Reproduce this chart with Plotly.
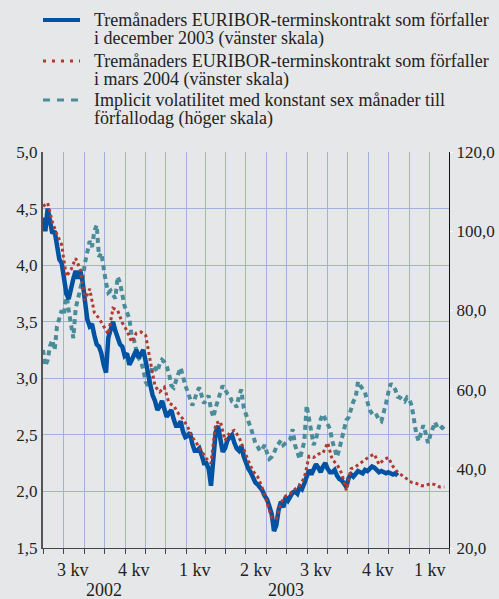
import pandas as pd
import plotly.graph_objects as go

# ---- data ----
start_date = "2002-07-01"

# Dec 2003 contract, two observations per week (left scale)
dec03 = [4.42, 4.30, 4.50, 4.40, 4.28, 4.30, 4.15, 4.05, 4.02, 3.88,
         3.75, 3.70, 3.80, 3.88, 3.95, 3.88, 3.95, 3.85, 3.68, 3.52,
         3.46, 3.48, 3.38, 3.30, 3.28, 3.22, 3.12, 3.05, 3.36, 3.42,
         3.50, 3.42, 3.37, 3.30, 3.28, 3.20, 3.22, 3.12, 3.16, 3.22,
         3.25, 3.18, 3.22, 3.25, 3.15, 3.02, 2.94, 2.85, 2.80, 2.72,
         2.75, 2.80, 2.72, 2.66, 2.69, 2.72, 2.64, 2.58, 2.58, 2.62,
         2.53, 2.48, 2.49, 2.52, 2.42, 2.36, 2.36, 2.38, 2.32, 2.25,
         2.25, 2.20, 2.05, 2.30, 2.52, 2.58, 2.43, 2.35, 2.38, 2.45,
         2.48, 2.50, 2.43, 2.38, 2.36, 2.40, 2.31, 2.25, 2.20, 2.17,
         2.12, 2.08, 2.06, 2.04, 2.01, 1.96, 1.93, 1.87, 1.80, 1.65,
         1.70, 1.84, 1.91, 1.86, 1.95, 1.92, 1.96, 1.99, 2.00, 1.98,
         2.04, 2.02, 2.07, 2.12, 2.19, 2.15, 2.19, 2.24, 2.21, 2.17,
         2.22, 2.25, 2.20, 2.17, 2.17, 2.19, 2.14, 2.11, 2.10, 2.07,
         2.04, 2.12, 2.15, 2.13, 2.16, 2.18, 2.17, 2.16, 2.19, 2.18,
         2.20, 2.22, 2.21, 2.19, 2.17, 2.18, 2.17, 2.16, 2.17, 2.16,
         2.15, 2.16, 2.14]

# Mar 2004 contract, weekly (left scale)
mar04 = [4.52, 4.55, 4.38, 4.27, 4.18, 3.90, 3.96, 4.06, 3.96, 3.69,
         3.79, 3.58, 3.53, 3.46, 3.39, 3.62, 3.60, 3.49, 3.42, 3.32,
         3.40, 3.41, 3.38, 3.15, 2.93, 2.88, 2.92, 2.78, 2.76, 2.69,
         2.64, 2.57, 2.48, 2.42, 2.35, 2.29, 2.25, 2.60, 2.62, 2.45,
         2.52, 2.54, 2.48, 2.37, 2.27, 2.18, 2.13, 2.03, 1.91, 1.77,
         1.76, 1.90, 1.96, 1.98, 2.02, 2.05, 2.12, 2.31, 2.30, 2.33,
         2.34, 2.43, 2.28, 2.24, 2.16, 2.01, 2.20, 2.22, 2.25, 2.28,
         2.31, 2.33, 2.24, 2.28, 2.30, 2.22, 2.17, 2.14, 2.11, 2.08,
         2.07, 2.05, 2.05, 2.07, 2.06, 2.04, 2.04]

# implied volatility, two observations per week (right scale)
vol = [70.0, 66.0, 67.5, 71.0, 72.5, 70.0, 76.0, 78.0, 80.0, 79.0,
       84.5, 80.0, 77.0, 73.0, 80.5, 83.0, 85.5, 88.0, 92.0, 95.0,
       97.5, 96.0, 100.0, 101.5, 93.5, 94.5, 90.5, 87.0, 84.5, 85.0,
       84.0, 83.0, 88.5, 87.0, 84.0, 81.0, 79.5, 78.0, 73.5, 72.5,
       70.0, 68.0, 67.0, 65.0, 62.0, 61.0, 63.5, 66.0, 65.5, 64.5,
       66.5, 67.5, 67.0, 66.0, 64.0, 61.0, 60.5, 62.5, 64.0, 65.5,
       63.0, 61.0, 59.5, 58.0, 56.0, 57.5, 59.5, 60.5, 58.0, 56.5,
       57.5, 58.5, 55.0, 53.0, 55.5, 57.5, 59.5, 61.0, 60.0, 59.0,
       58.5, 57.0, 56.8, 55.5, 58.5, 60.0, 55.5, 53.5, 52.0, 50.5,
       48.0, 46.5, 45.6, 44.5, 45.0, 46.0, 44.0, 42.5, 43.0, 44.0,
       45.5, 46.5, 47.2, 46.0, 46.4, 47.0, 47.5, 50.0, 46.0, 44.0,
       42.5, 44.5, 47.0, 56.0, 53.0, 49.0, 46.0, 47.5, 50.0, 52.5,
       53.8, 52.5, 51.0, 50.0, 47.0, 45.0, 43.0, 45.0, 47.5, 50.5,
       52.3, 53.0, 55.0, 57.0, 58.0, 62.0, 61.0, 60.0, 59.3, 57.0,
       54.8, 54.0, 53.2, 53.5, 52.4, 52.0, 54.0, 56.5, 59.3, 61.5,
       60.8, 60.0, 58.2, 58.0, 57.4, 57.0, 58.0, 57.5, 56.0, 52.0,
       48.8, 47.0, 49.0, 51.0, 49.0, 46.5, 48.5, 50.0, 51.8, 50.5,
       50.0, 50.5, 50.0]

quarter_labels = ["3 kv", "4 kv", "1 kv", "2 kv", "3 kv", "4 kv", "1 kv"]
quarter_pos = ["2002-08-15", "2002-11-15", "2003-02-14", "2003-05-16",
               "2003-08-15", "2003-11-15", "2004-02-01"]
year_labels = ["2002", "2003"]
year_pos = ["2002-10-01", "2003-07-01"]

legend_lines = [
    ["Tremånaders EURIBOR-terminskontrakt som förfaller", "i december 2003 (vänster skala)"],
    ["Tremånaders EURIBOR-terminskontrakt som förfaller", "i mars 2004 (vänster skala)"],
    ["Implicit volatilitet med konstant sex månader till", "förfallodag (höger skala)"],
]

d_dec = pd.date_range(start_date, periods=len(dec03), freq="84h")
d_mar = pd.date_range(start_date, periods=len(mar04), freq="7D")
d_vol = pd.date_range(start_date, periods=len(vol), freq="84h")

BG = "#E6E7E9"
GRID = "#A4B0DC"
FONT = "Liberation Serif"
BLUE = "#0052A2"
RED = "#B03A2E"
TEAL = "#4A8C9A"

# plot-area geometry in pixels (for placing the hand-made legend)
L, R, T, B = 43, 50, 152, 51
W, H = 499, 599
PW, PH = W - L - R, H - T - B


def px_x(px):
    return (px - L) / PW


def px_y(py):
    return (H - B - py) / PH


fig = go.Figure()
fig.add_trace(go.Scatter(x=d_vol, y=vol, yaxis="y", mode="lines",
                         line=dict(color=TEAL, width=4, dash="5px,4px")))
fig.add_trace(go.Scatter(x=d_dec, y=dec03, yaxis="y2", mode="lines",
                         line=dict(color=BLUE, width=4.5)))
fig.add_trace(go.Scatter(x=d_mar, y=mar04, yaxis="y2", mode="lines",
                         line=dict(color=RED, width=3, dash="3px,3px")))

# legend
sym_styles = [dict(color=BLUE, width=4), dict(color=RED, width=3, dash="3px,6px"),
              dict(color=TEAL, width=3, dash="7px,7px")]
sym_y = [20, 61, 100]
text_y = [(20, 38), (61, 79), (100, 118)]
for st, sy, lines, ty in zip(sym_styles, sym_y, legend_lines, text_y):
    fig.add_shape(type="line", xref="paper", yref="paper",
                  x0=px_x(43), x1=px_x(80), y0=px_y(sy), y1=px_y(sy), line=st)
    for txt, yy in zip(lines, ty):
        fig.add_annotation(x=px_x(93), y=px_y(yy), xref="paper", yref="paper",
                           xanchor="left", yanchor="middle", text=txt, showarrow=False,
                           borderpad=0,
                           font=dict(family=FONT, size=18, color="#222"))

for t, p in zip(quarter_labels, quarter_pos):
    fig.add_annotation(x=p, y=px_y(570), xref="x", yref="paper", text=t,
                       yanchor="middle", showarrow=False, borderpad=0,
                       font=dict(family=FONT, size=18, color="#222"))
for t, p in zip(year_labels, year_pos):
    fig.add_annotation(x=p, y=px_y(590), xref="x", yref="paper", text=t,
                       yanchor="middle", showarrow=False, borderpad=0,
                       font=dict(family=FONT, size=18, color="#222"))

month_ticks = pd.date_range("2002-07-01", "2004-03-01", freq="MS")

fig.update_layout(
    width=W, height=H,
    paper_bgcolor=BG, plot_bgcolor=BG,
    margin=dict(l=L, r=R, t=T, b=B, autoexpand=False),
    separators=", ",
    font=dict(family=FONT, size=17, color="#222"),
    showlegend=False,
    xaxis=dict(type="date", range=["2002-07-01", "2004-03-01"],
               tickvals=["2003-01-01", "2004-01-01"], ticktext=["", ""],
               ticks="outside", ticklen=9, tickcolor="#444",
               showgrid=True, gridcolor=GRID, gridwidth=1,
               minor=dict(tickvals=list(month_ticks), ticks="outside", ticklen=5,
                          tickcolor="#444", showgrid=True, gridcolor=GRID, gridwidth=1),
               showline=True, linecolor="#444", linewidth=1, zeroline=False),
    yaxis=dict(side="right", range=[20, 120], dtick=20, tickformat=".1f",
               showgrid=False, zeroline=False, showline=True, linecolor="#111",
               linewidth=1, ticks="outside", ticklen=3, tickcolor="#ffffff",
               tickfont=dict(family=FONT, size=17, color="#222")),
    yaxis2=dict(overlaying="y", side="left", range=[1.5, 5.0], dtick=0.5,
                tickformat=".1f", showgrid=True, gridcolor=GRID, gridwidth=1,
                zeroline=False, showline=True, linecolor="#555", linewidth=2,
                ticks="", tickfont=dict(family=FONT, size=17, color="#222")),
)

fig.write_html("out.html", config={"displayModeBar": False},
               post_script="document.body.style.margin='0';"
                           "document.body.style.background='" + BG + "';")
